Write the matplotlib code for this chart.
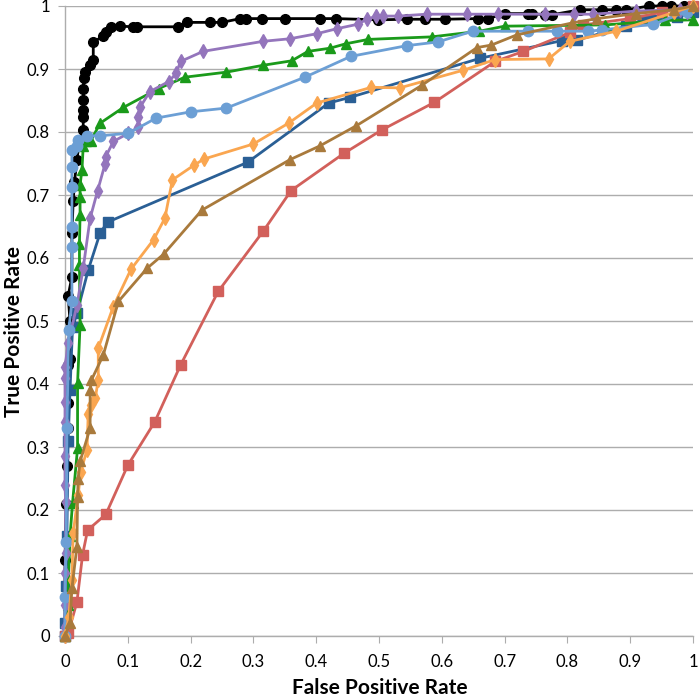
import numpy as np
import matplotlib
matplotlib.use("Agg")
import matplotlib.pyplot as plt

plt.rcParams['font.family'] = ['Lato', 'DejaVu Sans']

# ROC curves, values
black_x = [0, 0, 0.002, 0.003, 0.004, 0.005, 0.005, 0.008, 0.008, 0.005, 0.011, 0.011,
           0.013, 0.015, 0.019, 0.022, 0.029, 0.029, 0.029, 0.029, 0.029, 0.03, 0.032,
           0.04, 0.045, 0.045, 0.061, 0.066, 0.074, 0.088, 0.109, 0.114, 0.18, 0.194,
           0.231, 0.25, 0.279, 0.289, 0.313, 0.35, 0.406, 0.432, 0.499, 0.544, 0.573,
           0.605, 0.657, 0.674, 0.70, 0.738, 0.743, 0.764, 0.775, 0.82, 0.855, 0.878,
           0.894, 0.93, 0.95, 0.965, 0.985, 1.0]
black_y = [0, 0.12, 0.21, 0.27, 0.33, 0.37, 0.43, 0.44, 0.50, 0.54, 0.57, 0.64,
           0.69, 0.72, 0.755, 0.78, 0.803, 0.824, 0.835, 0.851, 0.869, 0.885, 0.896,
           0.906, 0.915, 0.943, 0.952, 0.959, 0.967, 0.968, 0.967, 0.967, 0.967, 0.974,
           0.974, 0.974, 0.98, 0.98, 0.98, 0.98, 0.98, 0.98, 0.978, 0.979, 0.979,
           0.979, 0.98, 0.98, 0.988, 0.988, 0.988, 0.986, 0.986, 0.994, 0.994, 0.994,
           0.994, 1, 1, 1, 1, 1]

navy_x = [0, 0.0, 0.002, 0.003, 0.005, 0.008, 0.012, 0.019, 0.037, 0.056, 0.068,
          0.291, 0.42, 0.454, 0.661, 0.791, 0.816, 0.894, 0.92, 0.936, 0.974, 1.0]
navy_y = [0, 0.02, 0.08, 0.158, 0.31, 0.39, 0.49, 0.512, 0.581, 0.64, 0.657,
          0.752, 0.846, 0.855, 0.917, 0.945, 0.946, 0.968, 0.978, 0.978, 0.982, 0.99]

red_x = [0, 0.005, 0.019, 0.028, 0.036, 0.065, 0.1, 0.143, 0.184, 0.244, 0.316,
         0.36, 0.444, 0.504, 0.588, 0.685, 0.73, 0.804, 0.825, 0.9, 0.95, 1.0]
red_y = [0, 0.004, 0.054, 0.129, 0.168, 0.193, 0.271, 0.34, 0.43, 0.547, 0.643,
         0.707, 0.766, 0.803, 0.847, 0.912, 0.928, 0.958, 0.97, 0.98, 0.99, 1.0]

green_x = [0, 0.004, 0.008, 0.012, 0.02, 0.02, 0.024, 0.023, 0.023, 0.024, 0.024,
           0.024, 0.027, 0.029, 0.033, 0.041, 0.056, 0.093, 0.149, 0.191, 0.257,
           0.316, 0.361, 0.387, 0.422, 0.447, 0.483, 0.584, 0.66, 0.7, 0.86, 0.955, 1.0]
green_y = [0, 0.05, 0.158, 0.211, 0.298, 0.401, 0.494, 0.589, 0.623, 0.668, 0.697,
           0.716, 0.74, 0.777, 0.785, 0.786, 0.814, 0.839, 0.869, 0.887, 0.895,
           0.906, 0.913, 0.928, 0.933, 0.94, 0.947, 0.951, 0.96, 0.968, 0.97, 0.977, 0.978]

purple_x = [0, 0.0, 0.0, 0.0, 0.001, 0.001, 0.0, 0.0, 0.0, 0.0, 0.0, 0.0, 0.005,
            0.019, 0.029, 0.04, 0.052, 0.064, 0.065, 0.077, 0.101, 0.117, 0.117,
            0.12, 0.135, 0.165, 0.177, 0.184, 0.22, 0.316, 0.358, 0.401, 0.433,
            0.466, 0.481, 0.496, 0.507, 0.531, 0.576, 0.64, 0.69, 0.764, 0.81,
            0.841, 0.91, 0.979, 0.99]
purple_y = [0, 0.015, 0.05, 0.1, 0.131, 0.213, 0.24, 0.285, 0.34, 0.372, 0.41,
            0.427, 0.465, 0.525, 0.584, 0.663, 0.707, 0.75, 0.761, 0.785, 0.798,
            0.808, 0.824, 0.84, 0.864, 0.88, 0.893, 0.912, 0.928, 0.944, 0.948,
            0.956, 0.964, 0.971, 0.979, 0.984, 0.984, 0.984, 0.987, 0.987, 0.987,
            0.987, 0.987, 0.987, 0.992, 0.994, 0.99]

sky_x = [0, 0.0, 0.002, 0.003, 0.006, 0.011, 0.011, 0.011, 0.011, 0.011, 0.011,
         0.019, 0.021, 0.035, 0.056, 0.101, 0.145, 0.2, 0.257, 0.382, 0.455,
         0.544, 0.594, 0.649, 0.738, 0.783, 0.833, 0.855, 0.937, 0.99]
sky_y = [0, 0.062, 0.15, 0.33, 0.486, 0.531, 0.618, 0.65, 0.713, 0.745, 0.771,
         0.777, 0.787, 0.794, 0.794, 0.798, 0.822, 0.832, 0.838, 0.887, 0.92,
         0.937, 0.943, 0.96, 0.96, 0.96, 0.96, 0.962, 0.971, 0.991]

orange_x = [0, 0.006, 0.011, 0.013, 0.021, 0.025, 0.035, 0.037, 0.042, 0.048,
            0.053, 0.053, 0.077, 0.105, 0.141, 0.159, 0.171, 0.205, 0.221, 0.3,
            0.356, 0.401, 0.488, 0.533, 0.634, 0.685, 0.77, 0.804, 0.878, 0.97, 1.0]
orange_y = [0, 0.03, 0.089, 0.163, 0.224, 0.261, 0.295, 0.353, 0.367, 0.377,
            0.406, 0.457, 0.523, 0.582, 0.629, 0.663, 0.724, 0.747, 0.757, 0.781,
            0.814, 0.846, 0.871, 0.87, 0.898, 0.915, 0.916, 0.944, 0.96, 0.99, 1.0]

brown_x = [0, 0.008, 0.011, 0.019, 0.02, 0.021, 0.024, 0.04, 0.04, 0.042, 0.061,
           0.085, 0.131, 0.157, 0.218, 0.358, 0.406, 0.464, 0.568, 0.656, 0.679,
           0.719, 0.807, 0.847, 0.91, 0.969, 1.0]
brown_y = [0, 0.02, 0.076, 0.142, 0.221, 0.25, 0.277, 0.33, 0.39, 0.406, 0.446,
           0.531, 0.584, 0.606, 0.676, 0.756, 0.778, 0.81, 0.874, 0.934, 0.938,
           0.954, 0.973, 0.98, 0.988, 0.994, 1.0]

curves = [
    (black_x, black_y, '#000000', 'o', 7),
    (navy_x, navy_y, '#2A5F95', 's', 7.5),
    (red_x, red_y, '#D2605B', 's', 7.5),
    (green_x, green_y, '#1A9A1A', '^', 7.5),
    (purple_x, purple_y, '#9475BC', 'd', 7),
    (sky_x, sky_y, '#6C9FD5', 'o', 7.5),
    (orange_x, orange_y, '#FAA650', 'd', 7),
    (brown_x, brown_y, '#A97A3C', '^', 7.5),
]

fig = plt.figure(figsize=(7.0, 6.98), dpi=100)
ax = fig.add_axes([65 / 700, 62 / 698, 628 / 700, 630 / 698])

for xs, ys, col, mk, ms in curves:
    ax.plot(xs, ys, color=col, lw=2.0, marker=mk, ms=ms, mec=col, mfc=col,
            clip_on=False, zorder=3)

ax.set_xlim(0, 1)
ax.set_ylim(0, 1)
ticks = np.round(np.arange(0, 1.01, 0.1), 1)
labels = ['0' if t == 0 else '1' if t == 1 else f'{t:.1f}' for t in ticks]
ax.set_xticks(ticks)
ax.set_xticklabels(labels)
ax.set_yticks(ticks)
ax.set_yticklabels(labels)

ax.yaxis.grid(True, color='#ADADAD', lw=1.0)
ax.set_axisbelow(True)
for side in ['top', 'right']:
    ax.spines[side].set_visible(False)
for side in ['left', 'bottom']:
    ax.spines[side].set_color('#ADADAD')
    ax.spines[side].set_linewidth(1.0)
ax.tick_params(axis='x', direction='out', length=5, color='#ADADAD',
               labelsize=12, pad=8)
ax.tick_params(axis='y', direction='out', length=5, color='#ADADAD',
               labelsize=12, pad=6)

# axis titles placed like the Excel original
fig.text(380 / 700, 1 - 688 / 698, 'False Positive Rate', fontsize=15,
         fontweight='bold', ha='center', va='center')
fig.text(14 / 700, 1 - 332 / 698, 'True Positive Rate', fontsize=15,
         fontweight='bold', ha='center', va='center', rotation=90)

fig.savefig('out.png', dpi=100)
